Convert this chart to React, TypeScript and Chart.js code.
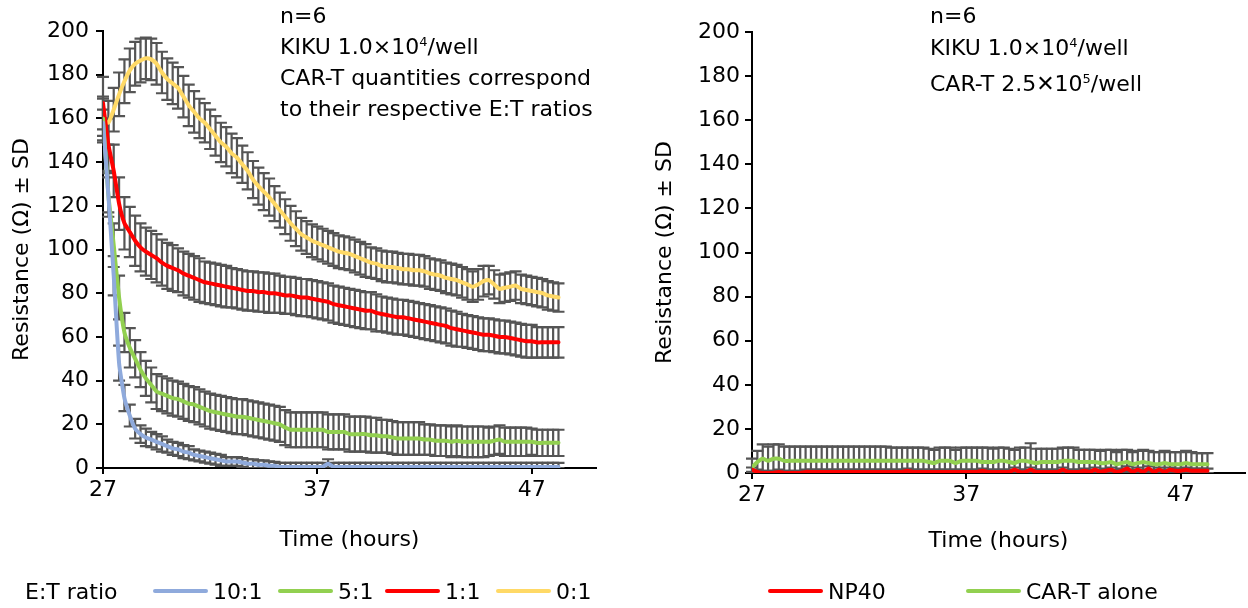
import React, { useEffect, useRef } from "react";
import { Chart, registerables } from "chart.js";

Chart.register(...registerables);

const FONT = "'DejaVu Sans', sans-serif";

// sampling grid: every 15 minutes from 27 h to 48.25 h
const times = Array.from({ length: 86 }, (_, i) => 27 + i * 0.25);
const xTicks = [27, 37, 47];
const yMin = 0;
const yMax = 200;
const yStep = 20;

// ---------- Left chart: E:T ratio ----------
const ratio10 = [
  158, 125, 88, 48, 32, 24, 18, 15.5,
  14, 13, 12, 11, 10, 9, 8.5, 7.5,
  7, 6, 5.5, 5, 4.5, 4, 3.5, 3,
  3, 3, 2.5, 2, 2, 1.5, 1.5, 1,
  1, 0.5, 0.5, 0.5, 0.5, 0.5, 0.5, 0.5,
  0.5, 0.5, 2, 0.5, 0.5, 0.5, 0.5, 0.5,
  0.5, 0.5, 0.5, 0.5, 0.5, 0.5, 0.5, 0.5,
  0.5, 0.5, 0.5, 0.5, 0.5, 0.5, 0.5, 0.5,
  0.5, 0.5, 0.5, 0.5, 0.5, 0.5, 0.5, 0.5,
  0.5, 0.5, 0.5, 0.5, 0.5, 0.5, 0.5, 0.5,
  0.5, 0.5, 0.5, 0.5, 0.5, 0.5,
];
const sd10 = [
  6, 8, 9, 8, 6, 5, 4.5, 4,
  4, 3.5, 3.5, 3.5, 3, 3, 3, 3,
  3, 2.5, 2.5, 2.5, 2.5, 2.5, 2.5, 2,
  2, 2, 2, 2, 2, 2, 2, 2,
  1.8, 1.8, 1.8, 1.8, 1.8, 1.8, 1.8, 1.8,
  1.8, 1.8, 2, 1.8, 1.8, 1.8, 1.8, 1.8,
  1.8, 1.8, 1.8, 1.8, 1.8, 1.8, 1.8, 1.8,
  1.8, 1.8, 1.8, 1.8, 1.8, 1.8, 1.8, 1.8,
  1.8, 1.8, 1.8, 1.8, 1.8, 1.8, 1.8, 1.8,
  1.8, 1.8, 1.8, 1.8, 1.8, 1.8, 1.8, 1.8,
  1.8, 1.8, 1.8, 1.8, 1.8, 1.8,
];
const ratio5 = [
  160, 125, 102, 78, 62, 55, 50, 45,
  41, 38, 35, 34, 33, 32, 31.5, 30.5,
  29.5, 29, 28, 27, 26, 25.5, 25, 24.5,
  24, 23.5, 23.5, 23, 22.5, 22, 21.5, 21,
  20.5, 20, 18.5, 17.5, 17.5, 17.5, 17.5, 17.5,
  17.5, 17.5, 16.5, 16.5, 16.5, 16.5, 15.5, 15.5,
  15.5, 15.5, 15, 15, 14.5, 14.5, 14, 13.5,
  13.5, 13.5, 13.5, 13.5, 13, 13, 12.5, 12.5,
  12.5, 12, 12.5, 12, 12, 12, 12, 12,
  12, 12.5, 13, 12, 12, 12, 12, 12,
  12, 11.5, 11.5, 11.5, 11.5, 11.5,
];
const sd5 = [
  10, 10, 10, 10, 9, 9, 8.5, 8,
  8, 8, 8, 8, 8, 8, 8, 8,
  8, 8, 8, 8, 8, 8, 8, 8,
  8, 8, 8, 8, 8, 8, 8, 8,
  8, 8, 8, 8, 8, 8, 8, 8,
  8, 8, 8, 8, 8, 8, 8, 8,
  8, 8, 8, 8, 7.5, 7.5, 7.5, 7.5,
  7.5, 7.5, 7.5, 7.5, 7, 7, 7, 7,
  7, 7, 7, 7, 7, 7, 7, 7,
  6.5, 6.5, 6.5, 6.5, 6.5, 6.5, 6.5, 6.5,
  6, 6, 6, 6, 6, 6,
];
const ratio1 = [
  167, 148, 136, 121, 112, 108, 104, 101,
  99, 97.5, 96, 94, 92.5, 91.5, 90.5, 89,
  88, 87, 86, 85, 84.5, 84, 83.5, 83,
  82.5, 82, 81.5, 81, 81, 80.5, 80.5, 80,
  80, 79.5, 79, 79, 78.5, 78, 78, 77.5,
  77, 76.5, 76, 75, 74.5, 74, 73.5, 73,
  72.5, 72, 72, 71, 70.5, 70, 69.5, 69,
  69, 68.5, 68, 67.5, 67, 66.5, 66, 65.5,
  65, 64, 63.5, 63, 62.5, 62, 61.5, 61,
  61, 60.5, 60, 60, 59.5, 59, 58.5, 58,
  58, 57.5, 57.5, 57.5, 57.5, 57.5,
];
const sd1 = [
  12, 12, 12, 12, 12, 11.5, 11.5, 11,
  11, 11, 11, 10.5, 10.5, 10.5, 10, 10,
  10, 10, 10, 9.5, 9.5, 9.5, 9.5, 9.5,
  9, 9, 9, 9, 9, 9, 9, 9,
  9, 8.5, 8.5, 8.5, 8.5, 8.5, 8.5, 8.5,
  8.5, 8.5, 8.5, 8.5, 8.5, 8.5, 8.5, 8.5,
  8.5, 8.5, 8.5, 8.5, 8, 8, 8, 8,
  8, 8, 8, 8, 8, 8, 8, 8,
  8, 8, 8, 7.5, 7.5, 7.5, 7.5, 7.5,
  7.5, 7.5, 7.5, 7.5, 7.5, 7.5, 7.5, 7.5,
  7.5, 7, 7, 7, 7, 7,
];
const ratio0 = [
  159, 158, 164, 171, 177, 182, 185, 186.5,
  187.5, 187, 185, 181, 178, 176, 174, 170,
  166, 163, 160, 158, 155, 152, 149, 147,
  144, 142, 139, 136, 132, 129, 126.5, 124,
  121, 118, 115, 112, 109.5, 107, 105.5, 104,
  103, 102, 101, 100, 99, 98.5, 98, 97,
  96, 95, 94, 93.5, 92.5, 92, 92, 91.5,
  91, 91, 90.5, 90.5, 90, 89, 88.5, 88,
  87, 86.5, 86, 85, 84, 83, 84, 85.5,
  86, 84, 82, 82.5, 83, 83.5, 82, 81.5,
  81, 80.5, 80, 79, 78.5, 78,
];
const sd0 = [
  10, 10, 10, 10, 10, 10, 10, 10,
  9.5, 9.5, 9.5, 9.5, 9.5, 9.5, 9.5, 9.5,
  9.5, 9.5, 9, 9, 9, 9, 9, 9,
  9, 9, 8.5, 8.5, 8.5, 8.5, 8.5, 8.5,
  8, 8, 8, 8, 8, 7.5, 7.5, 7.5,
  7.5, 7.5, 7.5, 7.5, 7.5, 7.5, 7.5, 7.5,
  7.5, 7.5, 7, 7, 7, 7, 7, 7,
  7, 7, 7, 7, 7, 7, 7, 7,
  7, 7, 7, 7, 7, 7, 7, 7,
  6.5, 6.5, 6.5, 6.5, 6.5, 6.5, 6.5, 6.5,
  6.5, 6.5, 6.5, 6.5, 6.5, 6.5,
];

// ---------- Right chart: controls ----------
const np40 = [
  1.5, 0.5, 0, 0, 0, 0.5, 0, 0,
  0, 0, 0.5, 0.5, 0.5, 0.5, 0.5, 0.5,
  0.5, 0.5, 0.5, 0.5, 0.5, 0.5, 0.5, 0.5,
  0.5, 0.5, 0.5, 0.5, 0.5, 1, 0.5, 0.5,
  0.5, 0.5, 0.5, 0.5, 0.5, 0.5, 0.5, 0.5,
  0.5, 0.5, 0.5, 1, 0.5, 0.5, 0.5, 0.5,
  0.5, 1.5, 0.5, 0.5, 1.5, 0.5, 0.5, 0.5,
  0.5, 0.5, 1.5, 0.5, 0.5, 0.5, 1, 0.5,
  1.5, 0.5, 1, 1.5, 0.5, 1, 2, 0.5,
  1.5, 0.5, 2, 0.5, 1.5, 0.5, 1.5, 1,
  1, 1.5, 1, 1, 1, 1,
];
const sdNp40 = [
  1, 1, 1, 1, 1, 1, 1, 1,
  1, 1, 1, 1, 1, 1, 1, 1,
  1, 1, 1, 1, 1, 1, 1, 1,
  1, 1, 1, 1, 1, 1, 1, 1,
  1, 1, 1, 1, 1, 1, 1, 1,
  1, 1, 1, 1, 1, 1, 1, 1,
  1, 1, 1, 1, 1, 1, 1, 1,
  1, 1, 1, 1, 1, 1, 1, 1,
  1, 1, 1, 1, 1, 1, 1, 1,
  1, 1, 1, 1, 1, 1, 1, 1,
  1, 1, 1, 1, 1, 1,
];
const carTAlone = [
  2.5, 5, 6.5, 5.5, 6.5, 6.5, 5.5, 5.5,
  5.5, 5.5, 5.5, 5.5, 5.5, 5.5, 5.5, 5.5,
  5.5, 5.5, 5.5, 5.5, 5.5, 5.5, 5.5, 5.5,
  5.5, 5.5, 5.5, 5.5, 5.5, 5.5, 5.5, 5.5,
  5.5, 5, 4.5, 5.5, 5.5, 5.5, 4.5, 5.5,
  5.5, 5.5, 5.5, 5, 5, 5, 5.5, 5.5,
  5, 4.5, 5.5, 5.5, 5, 4.5, 5, 5,
  5, 5, 5.5, 5.5, 5.5, 5, 5, 5,
  5, 4.5, 4.5, 5, 4, 4.5, 5, 4,
  4.5, 5, 4.5, 4, 4, 4.5, 4, 4,
  4, 4.5, 4, 4, 4, 4,
];
const sdCarTAlone = [
  4, 5, 6.5, 6.5, 6.5, 6.5, 6.5, 6.5,
  6.5, 6.5, 6.5, 6.5, 6.5, 6.5, 6.5, 6.5,
  6.5, 6.5, 6.5, 6.5, 6.5, 6.5, 6.5, 6.5,
  6.5, 6.5, 6, 6, 6, 6, 6, 6,
  6, 6, 6, 6, 6, 6, 6, 6,
  6, 6, 6, 6.5, 6.5, 6, 6, 6,
  6, 6, 6, 6, 8.5, 6.5, 6, 6,
  6, 6, 6, 6, 6, 5.5, 5.5, 5.5,
  5.5, 5.5, 6, 5.5, 5.5, 6, 5.5, 5.5,
  5.5, 5.5, 5.5, 5.5, 5.5, 5.5, 5.5, 5.5,
  5.5, 5.5, 5.5, 5, 5, 5,
];

const BLUE = "#8FAADC";
const GREEN = "#92D050";
const RED = "#FF0000";
const YELLOW = "#FFD966";
const BAR = "#555555";

const leftSeries = [
  { label: "10:1", values: ratio10, sd: sd10, color: BLUE },
  { label: "5:1", values: ratio5, sd: sd5, color: GREEN },
  { label: "1:1", values: ratio1, sd: sd1, color: RED },
  { label: "0:1", values: ratio0, sd: sd0, color: YELLOW },
];
const rightSeries = [
  { label: "NP40", values: np40, sd: sdNp40, color: RED },
  { label: "CAR-T alone", values: carTAlone, sd: sdCarTAlone, color: GREEN },
];

const errorBarPlugin = {
  id: "errorBars",
  beforeDatasetsDraw(chart: any) {
    const { ctx, chartArea, scales } = chart;
    const xs = scales.x;
    const ys = scales.y;
    ctx.save();
    ctx.beginPath();
    ctx.rect(chartArea.left - 8, chartArea.top - 2, chartArea.right - chartArea.left + 16, chartArea.bottom - chartArea.top + 2);
    ctx.clip();
    ctx.strokeStyle = BAR;
    ctx.lineWidth = 2.2;
    chart.data.datasets.forEach((ds: any) => {
      const sd = ds.sd as number[];
      if (!sd) return;
      ds.data.forEach((p: any, j: number) => {
        const x = xs.getPixelForValue(p.x);
        const yt = ys.getPixelForValue(p.y + sd[j]);
        const yb = Math.min(ys.getPixelForValue(p.y - sd[j]), chartArea.bottom);
        ctx.beginPath();
        ctx.moveTo(x, yt);
        ctx.lineTo(x, yb);
        ctx.moveTo(x - 6, yt);
        ctx.lineTo(x + 6, yt);
        ctx.moveTo(x - 6, yb);
        ctx.lineTo(x + 6, yb);
        ctx.stroke();
      });
    });
    ctx.restore();
  },
};

type Cfg = {
  padTop: number;
  padRight: number;
  padBottom: number;
  yWidth: number;
  xHeight: number;
  yTitlePad: number;
  yTickPad: number;
};

function buildChart(canvas: HTMLCanvasElement, series: any[], cfg: Cfg) {
  const font = { family: FONT, size: 22 };
  return new Chart(canvas, {
    type: "line",
    data: {
      datasets: series.map((s) => ({
        label: s.label,
        data: times.map((t, i) => ({ x: t, y: s.values[i] })),
        sd: s.sd,
        borderColor: s.color,
        backgroundColor: s.color,
        borderWidth: 4,
        pointRadius: 0,
        tension: 0.15,
        borderCapStyle: "round",
        borderJoinStyle: "round",
        fill: false,
      })) as any,
    },
    options: {
      responsive: true,
      maintainAspectRatio: false,
      animation: false,
      layout: { padding: { top: cfg.padTop, right: cfg.padRight, bottom: cfg.padBottom, left: 0 } },
      plugins: { legend: { display: false }, tooltip: { enabled: false } },
      scales: {
        x: {
          type: "linear",
          min: 27,
          max: 50,
          afterBuildTicks: (s: any) => {
            s.ticks = xTicks.map((v) => ({ value: v }));
          },
          afterFit: (s: any) => {
            s.height = cfg.xHeight;
          },
          grid: { drawOnChartArea: false, drawTicks: true, tickLength: 6, color: "#000", lineWidth: 2 },
          border: { display: true, color: "#000", width: 2 },
          ticks: { color: "#000", font, padding: 3, maxRotation: 0, autoSkip: false },
          title: { display: true, text: "Time (hours)", color: "#000", font, padding: { top: 0, bottom: 0 } },
        },
        y: {
          min: yMin,
          max: yMax,
          afterFit: (s: any) => {
            s.width = cfg.yWidth;
          },
          grid: { drawOnChartArea: false, drawTicks: true, tickLength: 7, color: "#000", lineWidth: 2 },
          border: { display: true, color: "#000", width: 2 },
          ticks: { color: "#000", font, stepSize: yStep, padding: cfg.yTickPad },
          title: {
            display: true,
            text: "Resistance (Ω) ± SD",
            color: "#000",
            font,
            padding: { top: cfg.yTitlePad, bottom: 0 },
          },
        },
      },
    } as any,
    plugins: [errorBarPlugin],
  });
}

const textStyle: React.CSSProperties = {
  position: "absolute",
  fontFamily: FONT,
  fontSize: 22,
  color: "#000",
  whiteSpace: "nowrap",
  lineHeight: "31px",
};

const supStyle: React.CSSProperties = { fontSize: 13, verticalAlign: "super", lineHeight: 0 };

function LegendItem({ left, color, label }: { left: number; color: string; label: string }) {
  return (
    <div style={{ position: "absolute", left, top: 577, height: 28, display: "flex", alignItems: "center", fontFamily: FONT, fontSize: 22, whiteSpace: "nowrap" }}>
      <span style={{ display: "inline-block", width: 55, height: 4, borderRadius: 2, background: color, marginRight: 5 }} />
      <span>{label}</span>
    </div>
  );
}

export default function App() {
  const leftRef = useRef<HTMLCanvasElement>(null);
  const rightRef = useRef<HTMLCanvasElement>(null);

  useEffect(() => {
    const left = buildChart(leftRef.current!, leftSeries, {
      padTop: 31,
      padRight: 24,
      padBottom: 55,
      yWidth: 103,
      xHeight: 85,
      yTitlePad: 9,
      yTickPad: 7,
    });
    const right = buildChart(rightRef.current!, rightSeries, {
      padTop: 32,
      padRight: 3,
      padBottom: 54,
      yWidth: 112,
      xHeight: 81,
      yTitlePad: 12,
      yTickPad: 5,
    });
    return () => {
      left.destroy();
      right.destroy();
    };
  }, []);

  return (
    <div style={{ position: "absolute", left: 0, top: 0, width: 1248, height: 608, overflow: "hidden", background: "#fff" }}>
      <div style={{ position: "absolute", left: 0, top: 0, width: 620, height: 608 }}>
        <canvas ref={leftRef} />
      </div>
      <div style={{ position: "absolute", left: 640, top: 0, width: 608, height: 608 }}>
        <canvas ref={rightRef} />
      </div>

      <div style={{ ...textStyle, left: 280, top: 0 }}>
        <div>n=6</div>
        <div>
          KIKU 1.0×10<span style={supStyle}>4</span>/well
        </div>
        <div>CAR-T quantities correspond</div>
        <div>to their respective E:T ratios</div>
      </div>

      <div style={{ ...textStyle, left: 930, top: 0 }}>n=6</div>
      <div style={{ ...textStyle, left: 930, top: 32 }}>
        KIKU 1.0×10<span style={supStyle}>4</span>/well
      </div>
      <div style={{ ...textStyle, left: 930, top: 68 }}>
        CAR-T 2.5✕10<span style={supStyle}>5</span>/well
      </div>

      <div style={{ position: "absolute", left: 25, top: 577, height: 28, display: "flex", alignItems: "center", fontFamily: FONT, fontSize: 22, whiteSpace: "nowrap" }}>
        E:T ratio
      </div>
      {leftSeries.map((s, i) => (
        <LegendItem key={s.label} left={[153, 278, 385, 496][i]} color={s.color} label={s.label} />
      ))}
      {rightSeries.map((s, i) => (
        <LegendItem key={s.label} left={[768, 966][i]} color={s.color} label={s.label} />
      ))}
    </div>
  );
}
